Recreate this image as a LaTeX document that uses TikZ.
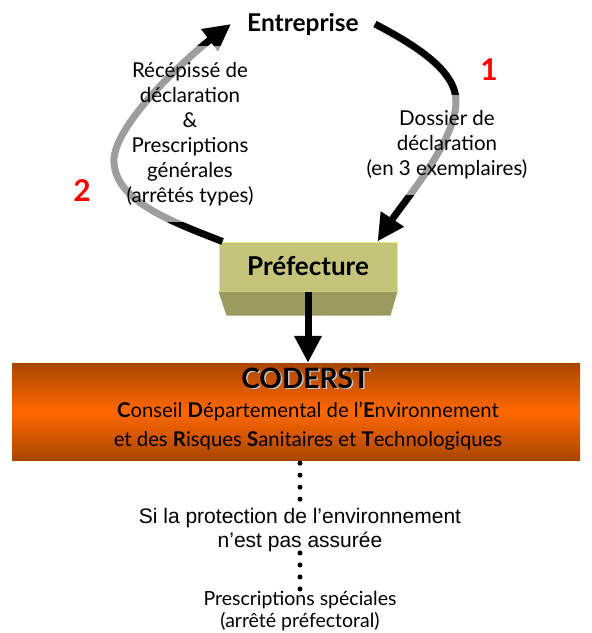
\documentclass[tikz,border=0pt]{standalone}
\usepackage{fontspec}
\setmainfont{Lato}
\newfontfamily\arialfont{Liberation Sans}
\usetikzlibrary{arrows.meta,calc}

\definecolor{prefTop}{RGB}{196,196,122}
\definecolor{prefSide}{RGB}{155,155,95}
\definecolor{prefEdge}{RGB}{232,232,140}
\definecolor{barDark}{RGB}{168,70,0}
\definecolor{barLight}{RGB}{255,104,0}
\definecolor{numRed}{RGB}{255,0,0}

\tikzset{
  bigarrow/.style={line width=7pt,-{Triangle[length=27pt,width=26pt]}},
  labelbox/.style={fill=white,fill opacity=0.62,text opacity=1,align=center,inner sep=0pt,font=\fontsize{20.5}{25}\selectfont},
  numlabel/.style={text=numRed,font=\fontsize{30}{30}\selectfont\bfseries},
  dotline/.style={line width=5pt,line cap=round,dash pattern=on 0pt off 12pt},
}

\begin{document}
\begin{tikzpicture}[x=1pt,y=-1pt]
\useasboundingbox (0,0) rectangle (592,633);

% top and prefecture
\node[font=\fontsize{24.5}{24}\selectfont\bfseries,inner xsep=16pt] (ent) at (303,24) {Entreprise};
\node[fill=prefTop,draw=prefEdge,line width=1pt,minimum width=178pt,minimum height=49pt,inner sep=0pt,
  font=\fontsize{26}{26}\selectfont\bfseries] (pref) at (308,266.5) {Préfecture};
\fill[prefSide] (pref.south west) -- (pref.south east) -- ($(pref.south east)+(-7,24)$)
  -- ($(pref.south west)+(8,24)$) -- cycle;

% CODERST bar
\node[minimum width=568pt,minimum height=97pt,inner sep=0pt,
  top color=barDark,bottom color=barDark,middle color=barLight] (bar) at (296,411.5) {};
\node[font=\fontsize{28}{28}\selectfont\bfseries,text=gray!45] (codshadow) at (307,379.5) {CODERST};
\node[font=\fontsize{28}{28}\selectfont\bfseries] (coderst) at (305.5,378) {CODERST};
\node[font=\fontsize{20.3}{20}\selectfont] (conseil) at (308,411)
  {\textbf{C}onseil \textbf{D}épartemental de l’\textbf{E}nvironnement};
\node[font=\fontsize{20.3}{20}\selectfont] (risques) at (308,441)
  {et des \textbf{R}isques \textbf{S}anitaires et \textbf{T}echnologiques};

% below the bar
\node[font=\arialfont\fontsize{21}{24}\selectfont,align=center,inner sep=0pt] (si) at (300,530)
  {Si la protection de l’environnement\\n’est pas assurée};
\node[font=\fontsize{19.5}{22}\selectfont,align=center,inner sep=0pt] (presc) at (300,611)
  {Prescriptions spéciales\\(arrêté préfectoral)};
\draw[dotline] ($(si.north |- bar.south)+(0,3)$) -- ($(si.north)+(0,-6)$);
\draw[dotline] ($(si.south)+(0,1)$) -- ($(presc.north)+(0,-1)$);

% arrows
\draw[bigarrow] ([xshift=4pt]pref.north west) .. controls (170,221) and (112,200) .. (114,158)
  .. controls (118,120) and (190,55) .. (ent.west);
\draw[bigarrow] (ent.east) .. controls (415,45) and (455,70) .. (456,100)
  .. controls (457,140) and (405,200) .. ([xshift=-20pt]pref.north east);
\draw[bigarrow] (pref.south) -- (pref.south |- bar.north);

% labels on the arrows
\node[labelbox,minimum width=164pt,minimum height=176pt] (recep) at (190,134)
  {Récépissé de\\déclaration\\\&\\Prescriptions\\générales\\(arrêtés types)};
\node[labelbox,minimum width=172pt,minimum height=100pt] (dossier) at (447,145)
  {Dossier de\\déclaration\\(en 3 exemplaires)};
\node[numlabel] (one) at (489,70) {1};
\node[numlabel] (two) at (82,191) {2};
\end{tikzpicture}
\end{document}
